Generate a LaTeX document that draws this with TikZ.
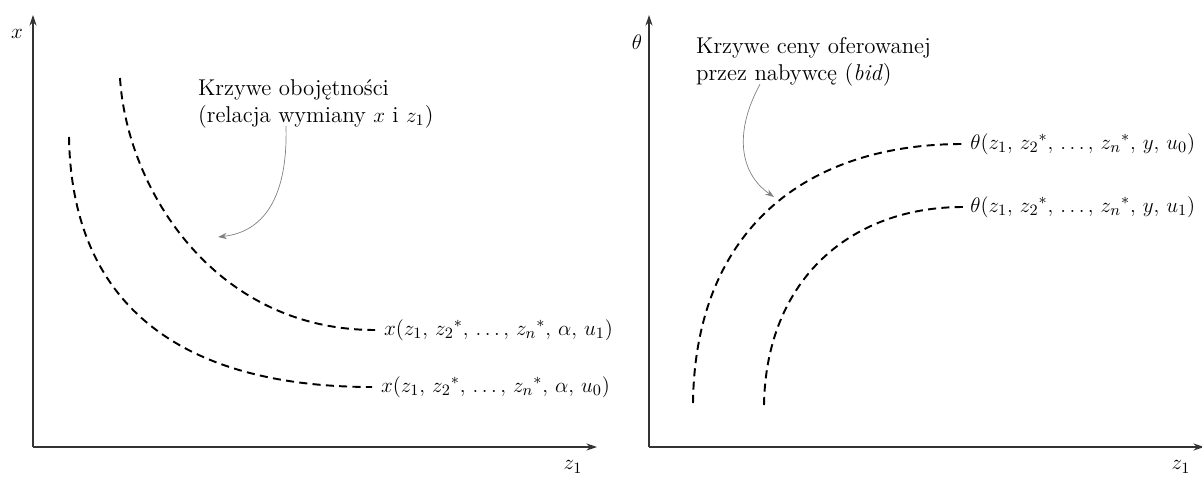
\documentclass[tikz,border=0pt]{standalone}
\usepackage{amsmath}
\usepackage{tikz}
\usetikzlibrary{positioning,arrows.meta}

\begin{document}
\begin{tikzpicture}[
  x=0.02cm, y=-0.02cm,
  every node/.style={font=\fontsize{13}{15.5}\selectfont, inner sep=1pt},
  axis/.style={-{Stealth[length=6pt,width=4pt]}, line width=0.7pt, black!80},
  curve/.style={dash pattern=on 4.6pt off 3pt, line width=1.1pt},
  note/.style={-{Stealth[length=5pt,width=3.5pt]}, gray, line width=0.4pt},
  lbl/.style={anchor=west}
]
  \useasboundingbox (0,0) rectangle (1202,479);

  % left panel: indifference curves
  \coordinate (lo) at (33,447);
  \coordinate (ltop) at (33,15);
  \coordinate (lright) at (597,447);
  \draw[axis] (lo) -- (ltop);
  \draw[axis] (lo) -- (lright);
  \node (lx) at (17,34) {$x$};
  \node (lz) at (573,467) {$z_1$};

  \coordinate (u1a) at (120,78);
  \coordinate (u1b) at (375,330);
  \coordinate (u0a) at (69,137);
  \coordinate (u0b) at (372,387);
  \draw[curve] (u1a) .. controls (127,190) and (215,330) .. (u1b);
  \draw[curve] (u0a) .. controls (72,320) and (200,387) .. (u0b);
  \node[lbl, right=4pt of u1b] (xu1) {$x(z_1,\, z_2{}^*,\, \ldots,\, z_n{}^*,\, \alpha,\, u_1)$};
  \node[lbl, right=4pt of u0b] (xu0) {$x(z_1,\, z_2{}^*,\, \ldots,\, z_n{}^*,\, \alpha,\, u_0)$};

  \node[anchor=north west, align=left] (obj) at (196,77)
    {Krzywe obojętności\\(relacja wymiany $x$ i $z_1$)};
  \coordinate (objtip) at (218,237);
  \draw[note] (obj.south west) ++(90,-4) .. controls (288,200) and (262,232) .. (objtip);

  % right panel: bid curves
  \coordinate (ro) at (649,447);
  \coordinate (rtop) at (649,15);
  \coordinate (rright) at (1204,447);
  \draw[axis] (ro) -- (rtop);
  \draw[axis] (ro) -- (rright);
  \node (rth) at (637,42) {$\theta$};
  \node (rz) at (1181,467) {$z_1$};

  \coordinate (b0a) at (693,403);
  \coordinate (b0b) at (963,144);
  \coordinate (b1a) at (764,405);
  \coordinate (b1b) at (963,207);
  \draw[curve] (b0a) .. controls (695,235) and (800,144) .. (b0b);
  \draw[curve] (b1a) .. controls (766,280) and (850,207) .. (b1b);
  \node[lbl, right=3pt of b0b] (th0) {$\theta(z_1,\, z_2{}^*,\, \ldots,\, z_n{}^*,\, y,\, u_0)$};
  \node[lbl, right=3pt of b1b] (th1) {$\theta(z_1,\, z_2{}^*,\, \ldots,\, z_n{}^*,\, y,\, u_1)$};

  \node[anchor=north west, align=left] (bid) at (694,35)
    {Krzywe ceny oferowanej\\przez nabywcę (\textit{bid})};
  \coordinate (bidtip) at (774,197);
  \draw[note] (bid.south west) ++(66,-4) .. controls (735,130) and (738,172) .. (bidtip);
\end{tikzpicture}
\end{document}
